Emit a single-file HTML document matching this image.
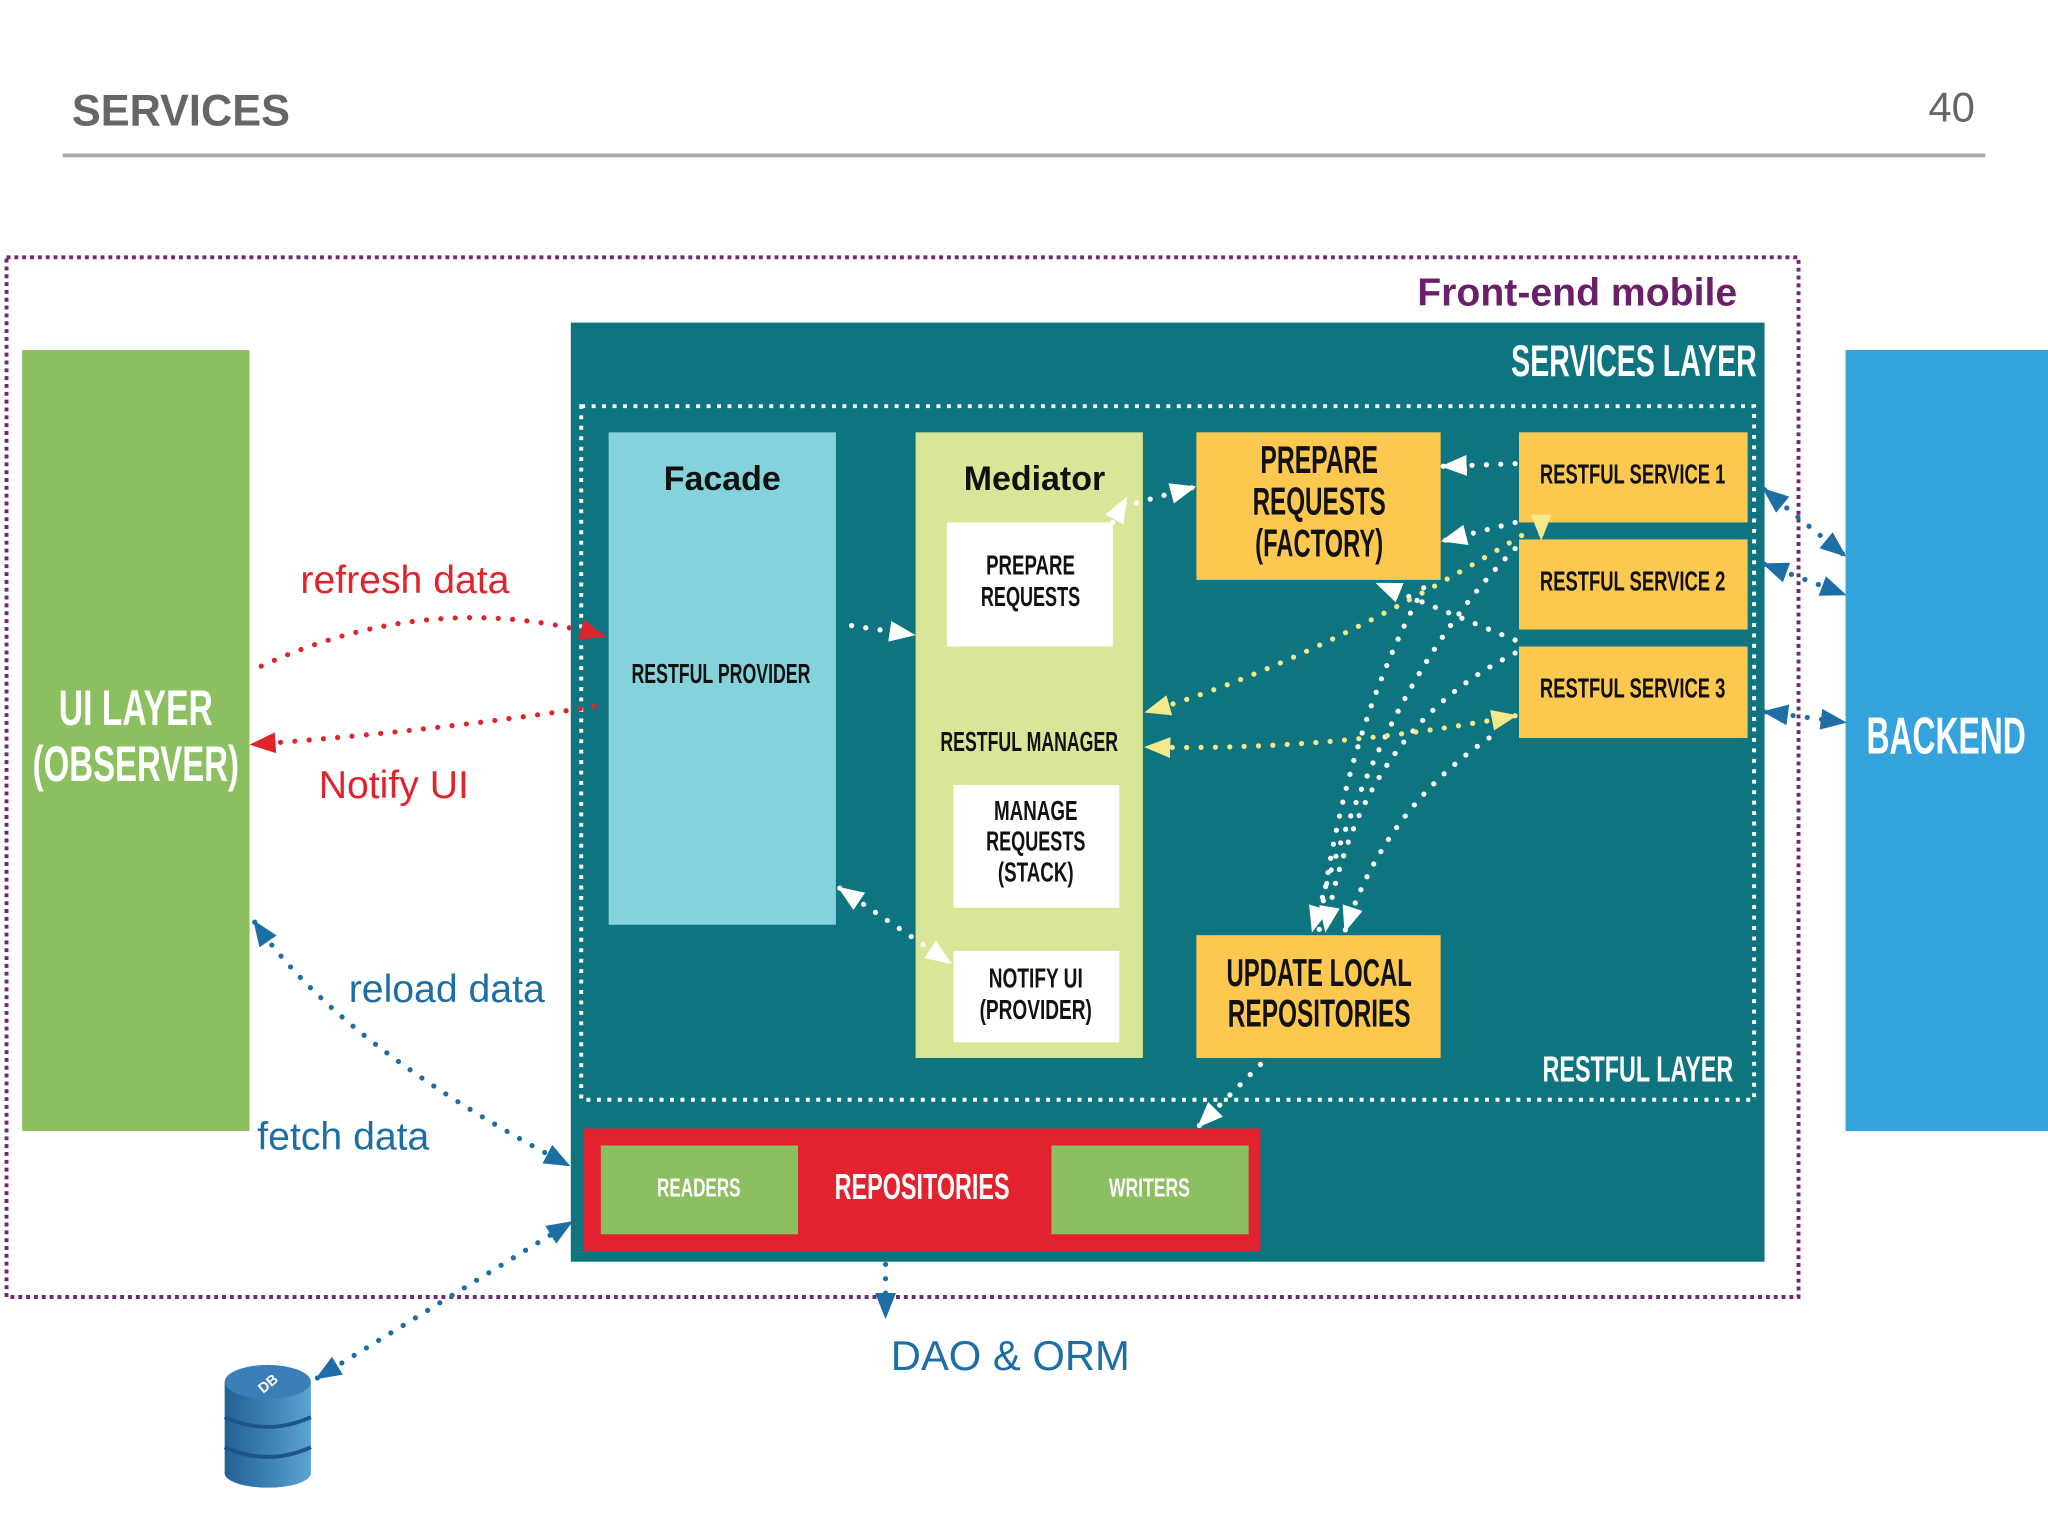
<!DOCTYPE html>
<html><head><meta charset="utf-8"><style>
html,body{margin:0;padding:0;background:#fff;}
svg{display:block;}
text{font-family:"Liberation Sans",sans-serif;}
.c{font-weight:bold;}
text[textLength]{font-weight:bold;}
</style></head><body>
<svg width="2048" height="1536" viewBox="0 0 1568 1176" xmlns="http://www.w3.org/2000/svg">
<defs>
<marker id="W" viewBox="0 0 10 10" refX="9" refY="5" markerWidth="20" markerHeight="20" orient="auto-start-reverse" markerUnits="userSpaceOnUse"><path d="M0,1L10,5L0,9z" fill="#fff"/></marker>
<marker id="Y" viewBox="0 0 10 10" refX="9" refY="5" markerWidth="20" markerHeight="20" orient="auto-start-reverse" markerUnits="userSpaceOnUse"><path d="M0,1L10,5L0,9z" fill="#f3e98a"/></marker>
<marker id="R" viewBox="0 0 10 10" refX="9" refY="5" markerWidth="20" markerHeight="20" orient="auto-start-reverse" markerUnits="userSpaceOnUse"><path d="M0,1L10,5L0,9z" fill="#e0242e"/></marker>
<marker id="B" viewBox="0 0 10 10" refX="9" refY="5" markerWidth="20" markerHeight="20" orient="auto-start-reverse" markerUnits="userSpaceOnUse"><path d="M0,1L10,5L0,9z" fill="#1d6ea4"/></marker>
<linearGradient id="db" x1="0" x2="1"><stop offset="0" stop-color="#225f95"/><stop offset="1" stop-color="#5aa3d3"/></linearGradient>
</defs>

<text x="55" y="96" font-size="34" fill="#666" textLength="167" lengthAdjust="spacingAndGlyphs">SERVICES</text>
<text x="1512" y="93" font-size="32" fill="#666" text-anchor="end">40</text>
<line x1="48" y1="119" x2="1520" y2="119" stroke="#aaa" stroke-width="3"/>

<rect x="5" y="197" width="1372" height="796" fill="none" stroke="#6e2a6e" stroke-width="3" stroke-dasharray="3 3"/>
<text x="1330" y="234" font-size="30" fill="#6b1f6b" text-anchor="end" class="c">Front-end mobile</text>

<rect x="17" y="268" width="174" height="598" fill="#8cbf5f"/>
<text x="104" y="555" font-size="38" fill="#fff" text-anchor="middle" textLength="118" lengthAdjust="spacingAndGlyphs">UI LAYER</text>
<text x="104" y="598" font-size="38" fill="#fff" text-anchor="middle" textLength="158" lengthAdjust="spacingAndGlyphs">(OBSERVER)</text>

<rect x="1413" y="268" width="155" height="598" fill="#35a3db"/>
<text x="1490" y="577" font-size="40" fill="#fff" text-anchor="middle" textLength="122" lengthAdjust="spacingAndGlyphs">BACKEND</text>

<rect x="437" y="247" width="914" height="719" fill="#0e7580"/>
<text x="1345" y="288" font-size="34" fill="#fff" text-anchor="end" textLength="188" lengthAdjust="spacingAndGlyphs">SERVICES LAYER</text>
<rect x="445" y="311" width="898" height="531" fill="none" stroke="#fff" stroke-width="3" stroke-dasharray="3 5"/>

<rect x="466" y="331" width="174" height="377" fill="#84d3da"/>
<text x="553" y="375" font-size="26" fill="#111" text-anchor="middle" class="c">Facade</text>
<text x="552" y="523" font-size="21" fill="#111" text-anchor="middle" textLength="137" lengthAdjust="spacingAndGlyphs">RESTFUL PROVIDER</text>

<rect x="701" y="331" width="174" height="479" fill="#d8e697"/>
<text x="792" y="375" font-size="26" fill="#111" text-anchor="middle" class="c">Mediator</text>
<rect x="725" y="400" width="127" height="95" fill="#fff"/>
<text x="789" y="440" font-size="21" fill="#111" text-anchor="middle" textLength="68" lengthAdjust="spacingAndGlyphs">PREPARE</text>
<text x="789" y="464" font-size="21" fill="#111" text-anchor="middle" textLength="76" lengthAdjust="spacingAndGlyphs">REQUESTS</text>
<text x="788" y="575" font-size="21" fill="#111" text-anchor="middle" textLength="136" lengthAdjust="spacingAndGlyphs">RESTFUL MANAGER</text>
<rect x="730" y="601" width="127" height="94" fill="#fff"/>
<text x="793" y="628" font-size="21" fill="#111" text-anchor="middle" textLength="64" lengthAdjust="spacingAndGlyphs">MANAGE</text>
<text x="793" y="651" font-size="21" fill="#111" text-anchor="middle" textLength="76" lengthAdjust="spacingAndGlyphs">REQUESTS</text>
<text x="793" y="675" font-size="21" fill="#111" text-anchor="middle" textLength="58" lengthAdjust="spacingAndGlyphs">(STACK)</text>
<rect x="730" y="728" width="127" height="70" fill="#fff"/>
<text x="793" y="756" font-size="21" fill="#111" text-anchor="middle" textLength="72" lengthAdjust="spacingAndGlyphs">NOTIFY UI</text>
<text x="793" y="780" font-size="21" fill="#111" text-anchor="middle" textLength="86" lengthAdjust="spacingAndGlyphs">(PROVIDER)</text>

<rect x="916" y="331" width="187" height="113" fill="#fcc850"/>
<text x="1010" y="362" font-size="30" fill="#111" text-anchor="middle" textLength="90" lengthAdjust="spacingAndGlyphs">PREPARE</text>
<text x="1010" y="394" font-size="30" fill="#111" text-anchor="middle" textLength="102" lengthAdjust="spacingAndGlyphs">REQUESTS</text>
<text x="1010" y="426" font-size="30" fill="#111" text-anchor="middle" textLength="98" lengthAdjust="spacingAndGlyphs">(FACTORY)</text>

<rect x="1163" y="331" width="175" height="69" fill="#fcc850"/>
<rect x="1163" y="413" width="175" height="69" fill="#fcc850"/>
<rect x="1163" y="495" width="175" height="70" fill="#fcc850"/>
<text x="1250" y="370" font-size="21" fill="#111" text-anchor="middle" textLength="142" lengthAdjust="spacingAndGlyphs">RESTFUL  SERVICE 1</text>
<text x="1250" y="452" font-size="21" fill="#111" text-anchor="middle" textLength="142" lengthAdjust="spacingAndGlyphs">RESTFUL  SERVICE 2</text>
<text x="1250" y="534" font-size="21" fill="#111" text-anchor="middle" textLength="142" lengthAdjust="spacingAndGlyphs">RESTFUL  SERVICE 3</text>

<rect x="916" y="716" width="187" height="94" fill="#fcc850"/>
<text x="1010" y="755" font-size="30" fill="#111" text-anchor="middle" textLength="142" lengthAdjust="spacingAndGlyphs">UPDATE LOCAL</text>
<text x="1010" y="786" font-size="30" fill="#111" text-anchor="middle" textLength="140" lengthAdjust="spacingAndGlyphs">REPOSITORIES</text>
<text x="1327" y="828" font-size="28" fill="#fff" text-anchor="end" textLength="146" lengthAdjust="spacingAndGlyphs">RESTFUL LAYER</text>

<rect x="447" y="864" width="518" height="94" fill="#e2222e"/>
<rect x="460" y="877" width="151" height="68" fill="#8cbf5f"/>
<rect x="805" y="877" width="151" height="68" fill="#8cbf5f"/>
<text x="535" y="916" font-size="20" fill="#fff" text-anchor="middle" textLength="64" lengthAdjust="spacingAndGlyphs">READERS</text>
<text x="880" y="916" font-size="20" fill="#fff" text-anchor="middle" textLength="62" lengthAdjust="spacingAndGlyphs">WRITERS</text>
<text x="706" y="918" font-size="28" fill="#fff" text-anchor="middle" textLength="134" lengthAdjust="spacingAndGlyphs">REPOSITORIES</text>

<text x="230" y="454" font-size="30" fill="#e0242e">refresh data</text>
<text x="244" y="611" font-size="30" fill="#e0242e">Notify UI</text>
<text x="267" y="767" font-size="30" fill="#1d6ea4">reload data</text>
<text x="197" y="880" font-size="30" fill="#1d6ea4">fetch data</text>
<text x="682" y="1049" font-size="32" fill="#1d6ea4">DAO &amp; ORM</text>

<g fill="none" stroke-width="4" stroke-linecap="round" stroke-dasharray="0 11">
<path d="M200,510 Q330,450 462,487" stroke="#e0242e" marker-end="url(#R)"/>
<path d="M455,541 Q330,560 193,570" stroke="#e0242e" marker-end="url(#R)"/>
<path d="M195,706 Q260,800 435,892" stroke="#1d6ea4" marker-start="url(#B)" marker-end="url(#B)"/>
<path d="M243,1055 L437,936" stroke="#1d6ea4" marker-start="url(#B)" marker-end="url(#B)"/>
<path d="M678,968 L678,1008" stroke="#1d6ea4" marker-end="url(#B)"/>
<path d="M1351,375 L1412,425" stroke="#1d6ea4" marker-start="url(#B)" marker-end="url(#B)"/>
<path d="M1351,432 L1412,455" stroke="#1d6ea4" marker-start="url(#B)" marker-end="url(#B)"/>
<path d="M1351,545 L1412,553" stroke="#1d6ea4" marker-start="url(#B)" marker-end="url(#B)"/>
<path d="M965,815 L918,862" stroke="#fff" marker-end="url(#W)"/>
<path d="M652,479 L699,486" stroke="#fff" marker-end="url(#W)"/>
<path d="M870,385 L914,373" stroke="#fff" marker-end="url(#W)"/>
<path d="M852,400 L862,382" stroke="#fff" marker-end="url(#W)"/>
<path d="M643,680 L727,737" stroke="#fff" marker-start="url(#W)" marker-end="url(#W)"/>
<path d="M1160,355 L1105,357" stroke="#fff" marker-end="url(#W)"/>
<path d="M1160,400 L1105,414" stroke="#fff" marker-end="url(#W)"/>
<path d="M1160,490 L1055,447" stroke="#fff" marker-end="url(#W)"/>
<path d="M1160,420 Q1060,520 1005,712" stroke="#fff" marker-end="url(#W)"/>
<path d="M1160,500 Q1040,560 1015,712" stroke="#fff" marker-end="url(#W)"/>
<path d="M1140,565 Q1060,620 1030,712" stroke="#fff" marker-end="url(#W)"/>
<path d="M1090,450 Q1030,560 1010,712" stroke="#fff"/>
<path d="M1165,410 Q1000,510 878,545" stroke="#f3e98a" marker-end="url(#Y)"/>
<path d="M1160,548 Q1020,575 878,572" stroke="#f3e98a" marker-start="url(#Y)" marker-end="url(#Y)"/>
<path d="M1180,398 L1180,412" stroke="#f3e98a" marker-end="url(#Y)"/>
</g>

<g>
<rect x="172" y="1058" width="66" height="70" fill="url(#db)"/>
<ellipse cx="205" cy="1128" rx="33" ry="11" fill="url(#db)"/>
<path d="M172,1085 Q205,1100 238,1085 M172,1108 Q205,1123 238,1108" stroke="#1e5586" stroke-width="3" fill="none"/>
<ellipse cx="205" cy="1058" rx="33" ry="13" fill="#3b7fb9"/>
<text x="205" y="1063" font-size="11" fill="#fff" text-anchor="middle" transform="rotate(-40 205 1059)" class="c">DB</text>
</g>
</svg>
</body></html>
